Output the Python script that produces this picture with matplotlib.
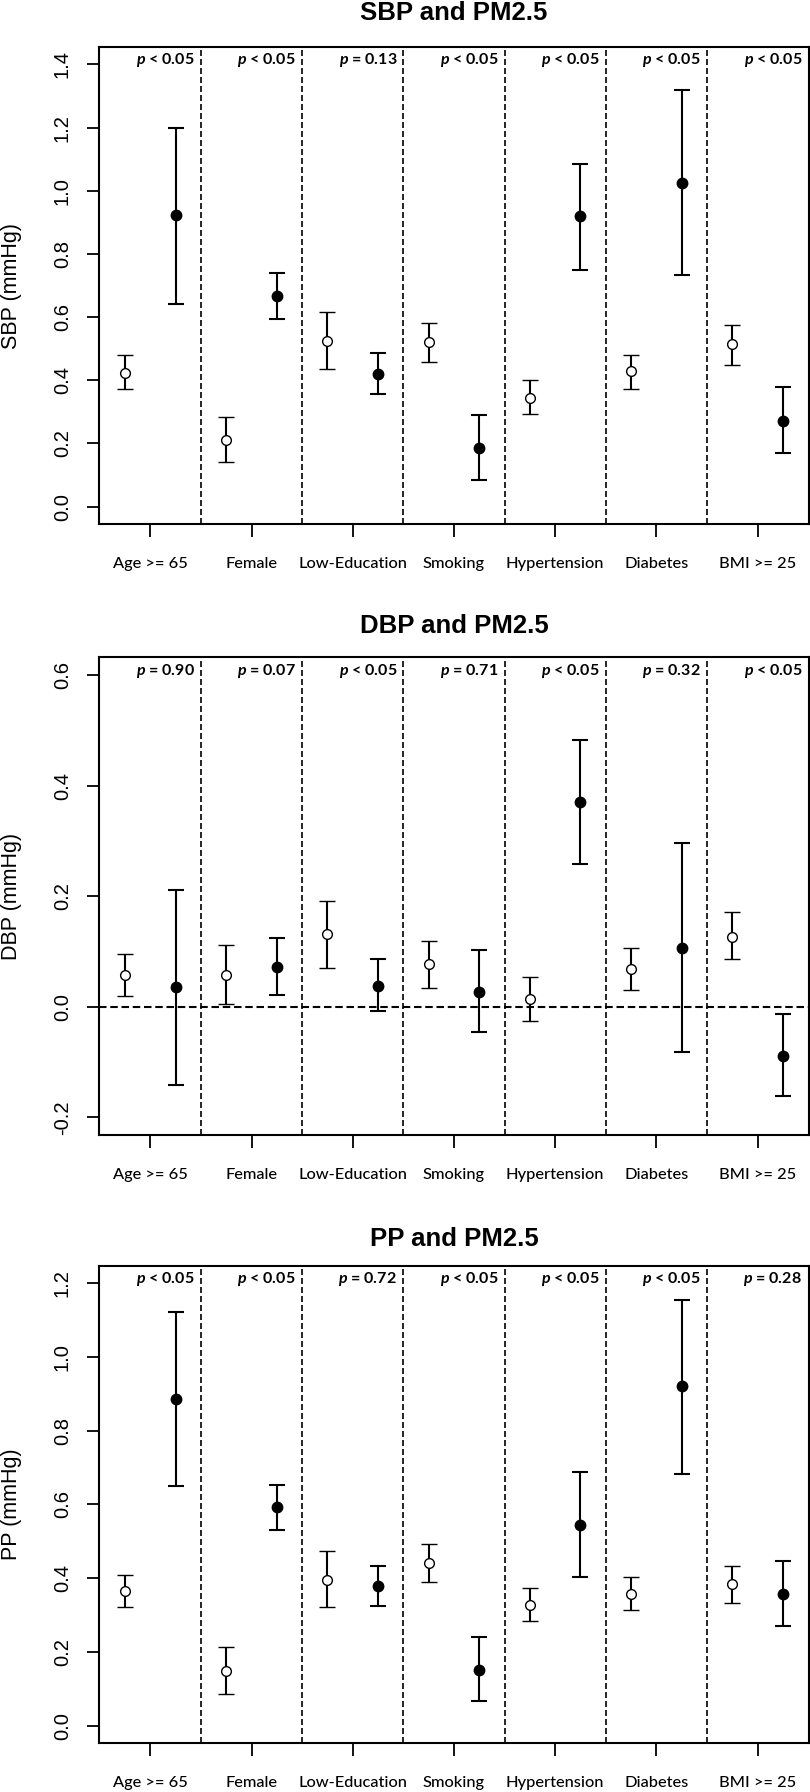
import matplotlib
matplotlib.use("Agg")
import matplotlib.pyplot as plt
from matplotlib.ticker import FormatStrFormatter
import numpy as np

plt.rcParams['font.family'] = ['Liberation Sans', 'DejaVu Sans']
plt.rcParams['axes.unicode_minus'] = False
plt.rcParams['mathtext.fontset'] = 'custom'
plt.rcParams['mathtext.it'] = 'Lato:italic:bold'
plt.rcParams['mathtext.rm'] = 'Lato:bold'

groups = ["Age >= 65", "Female", "Low-Education", "Smoking",
          "Hypertension", "Diabetes", "BMI >= 25"]

# SBP: open = without the characteristic, filled = with it
sbp_open = [0.424, 0.211, 0.526, 0.522, 0.343, 0.428, 0.514]
sbp_open_lo = [0.374, 0.140, 0.437, 0.459, 0.293, 0.374, 0.450]
sbp_open_hi = [0.480, 0.284, 0.616, 0.582, 0.400, 0.480, 0.574]
sbp_fill = [0.922, 0.667, 0.419, 0.185, 0.919, 1.025, 0.271]
sbp_fill_lo = [0.642, 0.595, 0.356, 0.084, 0.750, 0.732, 0.170]
sbp_fill_hi = [1.200, 0.740, 0.485, 0.289, 1.085, 1.319, 0.378]
sbp_p = ["< 0.05", "< 0.05", "= 0.13", "< 0.05", "< 0.05", "< 0.05", "< 0.05"]

# DBP
dbp_open = [0.058, 0.057, 0.131, 0.078, 0.015, 0.068, 0.127]
dbp_open_lo = [0.019, 0.005, 0.071, 0.034, -0.025, 0.031, 0.086]
dbp_open_hi = [0.095, 0.112, 0.192, 0.119, 0.054, 0.107, 0.171]
dbp_fill = [0.036, 0.072, 0.038, 0.027, 0.370, 0.107, -0.089]
dbp_fill_lo = [-0.142, 0.022, -0.008, -0.046, 0.258, -0.081, -0.161]
dbp_fill_hi = [0.212, 0.124, 0.086, 0.102, 0.483, 0.297, -0.013]
dbp_p = ["= 0.90", "= 0.07", "< 0.05", "= 0.71", "< 0.05", "= 0.32", "< 0.05"]

# PP
pp_open = [0.364, 0.147, 0.394, 0.442, 0.327, 0.356, 0.383]
pp_open_lo = [0.321, 0.085, 0.321, 0.390, 0.284, 0.313, 0.332]
pp_open_hi = [0.409, 0.214, 0.473, 0.494, 0.373, 0.402, 0.434]
pp_fill = [0.887, 0.592, 0.379, 0.151, 0.544, 0.921, 0.356]
pp_fill_lo = [0.649, 0.531, 0.324, 0.067, 0.402, 0.682, 0.270]
pp_fill_hi = [1.122, 0.653, 0.434, 0.240, 0.689, 1.156, 0.446]
pp_p = ["< 0.05", "< 0.05", "= 0.72", "< 0.05", "< 0.05", "< 0.05", "= 0.28"]

panels = [
    dict(title="SBP and PM2.5", ylabel="SBP (mmHg)", ylim=(0, 1.4),
         bottom=0.7074, title_y=1 - 12.5 / 1792,
         o=sbp_open, olo=sbp_open_lo, ohi=sbp_open_hi,
         f=sbp_fill, flo=sbp_fill_lo, fhi=sbp_fill_hi, p=sbp_p, zero=False),
    dict(title="DBP and PM2.5", ylabel="DBP (mmHg)", ylim=(-0.2, 0.6),
         bottom=0.3666, title_y=1 - 626 / 1792,
         o=dbp_open, olo=dbp_open_lo, ohi=dbp_open_hi,
         f=dbp_fill, flo=dbp_fill_lo, fhi=dbp_fill_hi, p=dbp_p, zero=True),
    dict(title="PP and PM2.5", ylabel="PP (mmHg)", ylim=(0, 1.2),
         bottom=0.0272, title_y=1 - 1239 / 1792,
         o=pp_open, olo=pp_open_lo, ohi=pp_open_hi,
         f=pp_fill, flo=pp_fill_lo, fhi=pp_fill_hi, p=pp_p, zero=False),
]

fig = plt.figure(figsize=(8.1, 17.92), dpi=100)
x = np.arange(1, len(groups) + 1)
dash = (0, (3.6, 1.8))

for pn in panels:
    ax = fig.add_axes([0.1222, pn['bottom'], 0.8765, 0.2665])
    o = np.array(pn['o']); f = np.array(pn['f'])
    ax.errorbar(x - 0.25, o, yerr=[o - np.array(pn['olo']), np.array(pn['ohi']) - o],
                fmt='o', mfc='white', mec='black', ms=7, mew=1.0, ecolor='black',
                elinewidth=1.5, capsize=6, capthick=1.5, zorder=3)
    ax.errorbar(x + 0.25, f, yerr=[f - np.array(pn['flo']), np.array(pn['fhi']) - f],
                fmt='o', mfc='black', mec='black', ms=7.5, ecolor='black',
                elinewidth=1.5, capsize=6, capthick=1.5, zorder=3)
    for s in x[:-1] + 0.5:
        ax.axvline(s, ls=dash, lw=1.2, color='black', zorder=1)
    if pn['zero']:
        ax.axhline(0, ls=dash, lw=1.5, color='black', zorder=1)

    lo, hi = pn['ylim']
    r = hi - lo
    ax.set_ylim(lo - 0.04 * r, hi + 0.04 * r)
    ax.set_xlim(0.493, 7.507)
    ax.set_yticks(np.round(np.arange(lo, hi + 0.001, 0.2), 1))
    ax.yaxis.set_major_formatter(FormatStrFormatter('%.1f'))
    ax.tick_params(axis='y', length=8.6, width=1.3, labelsize=14.5, pad=11,
                   labelrotation=90)
    for lab in ax.get_yticklabels():
        lab.set_va('center')
    ax.set_xticks(x)
    ax.set_xticklabels([])
    ax.tick_params(axis='x', length=9.4, width=1.3)
    for sp in ax.spines.values():
        sp.set_linewidth(1.5)

    for xi, g in zip(x, groups):
        ax.annotate(g, xy=(xi, 0), xycoords=('data', 'axes fraction'),
                    xytext=(0, -28.5), textcoords='offset points',
                    ha='center', va='center', fontsize=11.8, family='Lato',
                    fontweight='medium')
    for xi, pv in zip(x, pn['p']):
        ax.annotate(r"$p$ " + pv, xy=(xi + 0.5, hi), xycoords='data',
                    xytext=(-4.5, 3), textcoords='offset points',
                    ha='right', va='center', fontsize=11.5, family='Lato',
                    fontweight='bold')

    fig.text(454 / 810, pn['title_y'], pn['title'], ha='center', va='center',
             fontsize=18.5, fontweight='bold')
    fig.text(12 / 810, pn['bottom'] + 0.2665 / 2, pn['ylabel'], rotation=90,
             ha='center', va='center', fontsize=15.5)

fig.savefig("out.png", dpi=100)
